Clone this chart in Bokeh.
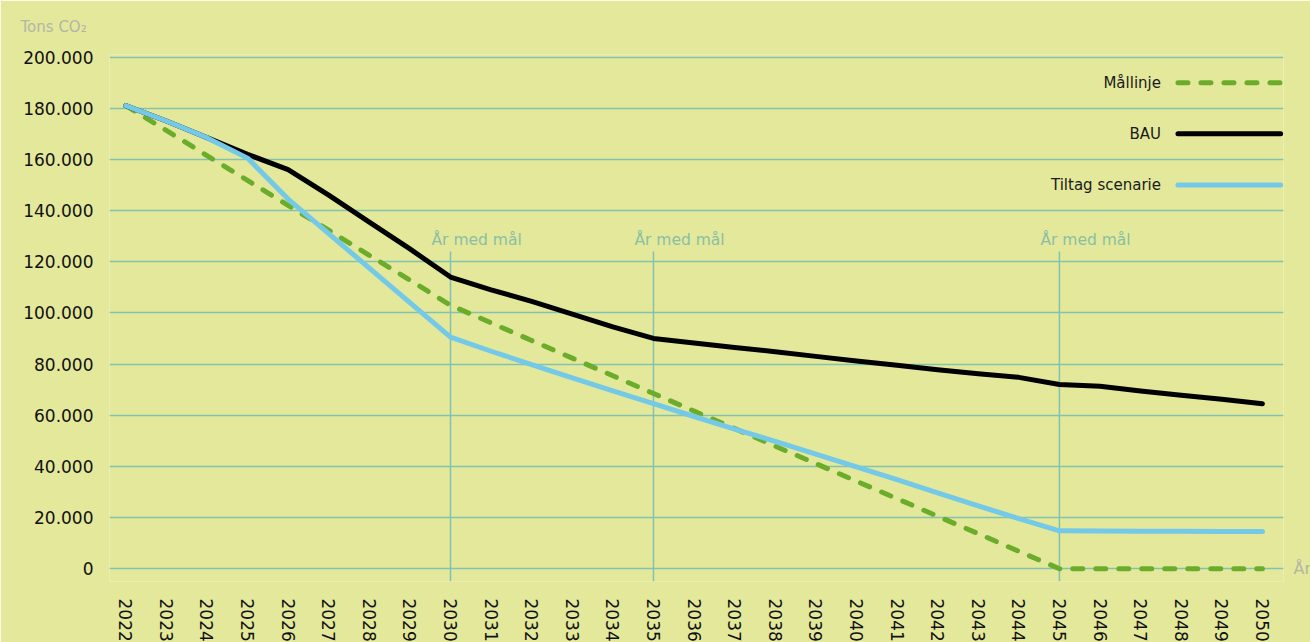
from bokeh.plotting import figure
from bokeh.models import FixedTicker, Label, LinearAxis, Title
from bokeh.embed import file_html
from bokeh.resources import INLINE
import math

years = list(range(2022, 2051))
bau = [181000, 175000, 168500, 162000, 156000, 146000, 135500, 125000, 114000,
       109000, 104500, 99500, 94500, 90000, 88200, 86500, 84800, 83000, 81200,
       79500, 77800, 76200, 74800, 72000, 71300, 69500, 67800, 66200, 64500]
maallinje = [181000, 171300, 161500, 151800, 142000, 132300, 122500, 112800, 103000,
             96100, 89200, 82300, 75400, 68500, 61600, 54800, 47900, 41100, 34200,
             27400, 20500, 13700, 6800, 0, 0, 0, 0, 0, 0]
tiltag = [181000, 175000, 168500, 160500, 144500, 131000, 117500, 104000, 90500,
          85000, 79800, 74600, 69500, 64500, 59500, 54600, 49800, 44800, 39800,
          34800, 29600, 24600, 19600, 14800, 14700, 14600, 14600, 14500, 14500]
target_years = [2030, 2035, 2045]
target_label = "År med mål"
y_ticks = [0, 20000, 40000, 60000, 80000, 100000, 120000, 140000, 160000, 180000, 200000]
y_tick_labels = ["0", "20.000", "40.000", "60.000", "80.000", "100.000", "120.000",
                 "140.000", "160.000", "180.000", "200.000"]
series_names = ["Mållinje", "BAU", "Tiltag scenarie"]
y_title = "Tons CO₂"
x_title = "År"

BG = "#E3E89A"
GRID = "#84C1AF"
GREEN = "#6BAD2B"
BLUE = "#74C8E8"
GREYTXT = "#B3B6A8"
FONT = "DejaVu Sans"

p = figure(frame_width=1174, frame_height=527, x_range=(2021.6, 2050.52),
           y_range=(-5000, 201000), output_backend="svg", toolbar_location=None,
           min_border_left=109, min_border_right=27, min_border_top=54, min_border_bottom=61)
p.background_fill_color = BG
p.border_fill_color = BG
p.outline_line_color = None

p.xgrid.grid_line_color = None
p.ygrid.grid_line_color = GRID
p.ygrid.grid_line_width = 1.5
p.yaxis.ticker = FixedTicker(ticks=y_ticks)
p.yaxis.major_label_overrides = {t: l for t, l in zip(y_ticks, y_tick_labels)}
p.xaxis.ticker = FixedTicker(ticks=years)
p.xaxis.major_label_orientation = -math.pi / 2
for ax in (p.xaxis, p.yaxis):
    ax.axis_line_color = None
    ax.major_tick_line_color = None
    ax.minor_tick_line_color = None
    ax.major_tick_out = 0
    ax.major_tick_in = 0
    ax.minor_tick_out = 0
    ax.major_label_text_font = FONT
    ax.major_label_text_font_size = "17px"
    ax.major_label_text_color = "#111111"
p.yaxis.major_label_standoff = 16
p.xaxis.major_label_standoff = 17

# "År" at the right end of the zero line
rax = LinearAxis(ticker=FixedTicker(ticks=[0]), major_label_overrides={0: x_title},
                 axis_line_color=None, major_tick_line_color=None, minor_tick_line_color=None,
                 major_tick_out=0, major_tick_in=0, minor_tick_out=0,
                 major_label_standoff=10, major_label_text_font=FONT,
                 major_label_text_font_size="16px", major_label_text_color=GREYTXT)
p.add_layout(rax, "right")

# "Tons CO₂" at top left
p.add_layout(Title(text=y_title, align="left", offset=-89, standoff=33, vertical_align="top",
                   text_font=FONT, text_font_size="15px", text_font_style="normal",
                   text_color=GREYTXT), "above")

# target year markers
p.segment(x0=target_years, y0=[-5000] * 3, x1=target_years, y1=[124000] * 3,
          line_color=GRID, line_width=1.5)
for ty in target_years:
    p.add_layout(Label(x=ty, y=128500, x_offset=-19, text=target_label, text_align="left",
                       text_baseline="middle", text_font=FONT, text_font_size="15.5px",
                       text_color="#8BBFA5"))

p.line(years, maallinje, line_color=GREEN, line_width=5, line_dash="10 13",
       line_cap="round", line_join="round")
p.line(years, bau, line_color="black", line_width=5, line_cap="round", line_join="round")
p.line(years, tiltag, line_color=BLUE, line_width=5, line_cap="round", line_join="round")

# legend (manual, label left of sample)
leg_y = [190000, 170000, 150000]
leg_styles = [dict(line_color=GREEN, line_dash="10 13"), dict(line_color="black"),
              dict(line_color=BLUE)]
for name, ly, st in zip(series_names, leg_y, leg_styles):
    p.line([2047.92, 2050.45], [ly, ly], line_width=5, line_cap="round", **st)
    p.add_layout(Label(x=2047.92, y=ly, x_offset=-17, text=name, text_align="right",
                       text_baseline="middle", text_font=FONT, text_font_size="15px",
                       text_color="#1a1a1a"))

open("out.html", "w").write(file_html(p, INLINE))
